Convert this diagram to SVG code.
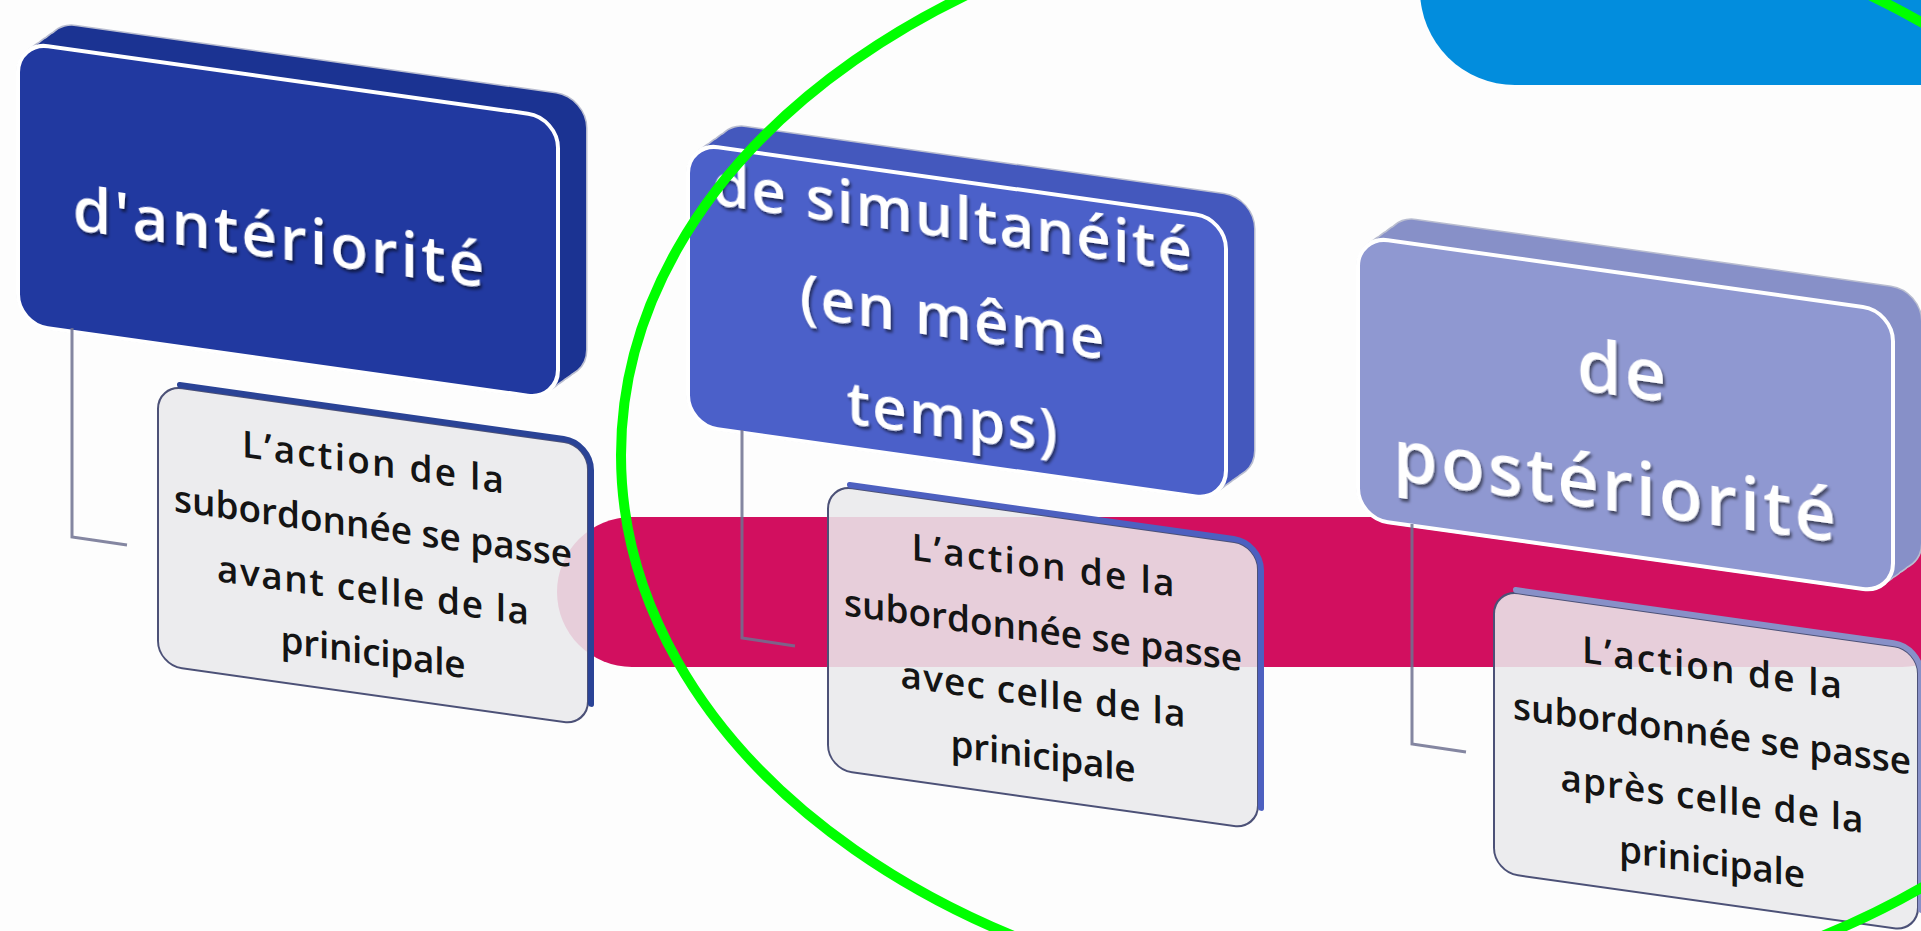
<svg xmlns="http://www.w3.org/2000/svg" width="1921" height="931" viewBox="0 0 1921 931">
<defs>
<style>
.big{font-family:"Open Sans","DejaVu Sans",sans-serif;font-weight:600;fill:#ffffff;text-anchor:middle;filter:url(#sh)}
.det{font-family:"Open Sans","DejaVu Sans",sans-serif;font-weight:600;font-size:37px;fill:#141414;text-anchor:middle}
.outl{fill:none;stroke:#b9bdd0;stroke-width:3}
.face{stroke:#ffffff;stroke-width:4}
.dfront{fill:#e9e9ec;fill-opacity:0.88;stroke:#4c5177;stroke-width:2}
.dtop{fill:none;stroke-width:6;stroke-linecap:round}
</style>
<filter id="sh" x="-10%" y="-20%" width="130%" height="150%">
<feDropShadow dx="2" dy="3" stdDeviation="1.5" flood-color="#000000" flood-opacity="0.55"/>
</filter>
</defs>
<rect x="0" y="0" width="1921" height="931" fill="#fdfdfd"/>
<rect id="blue-tab" x="1420" y="-120" width="620" height="205" rx="95" fill="#028ddd"/>
<rect id="band" x="557" y="517" width="1420" height="150" rx="75" fill="#d20f5f"/>

<g id="node-anteriorite" transform="translate(18,42) skewY(8)">
<g class="outl"><rect x="0" y="0" width="540" height="282" rx="30"/><rect x="7" y="-6" width="540" height="282" rx="30"/><rect x="14" y="-12" width="540" height="282" rx="30"/><rect x="21" y="-18" width="540" height="282" rx="30"/><rect x="28" y="-24" width="540" height="282" rx="30"/></g>
<g fill="#1b3392"><rect x="0" y="0" width="540" height="282" rx="30"/><rect x="7" y="-6" width="540" height="282" rx="30"/><rect x="14" y="-12" width="540" height="282" rx="30"/><rect x="21" y="-18" width="540" height="282" rx="30"/><rect x="28" y="-24" width="540" height="282" rx="30"/></g>
<rect class="face" x="0" y="0" width="540" height="282" rx="30" fill="#2139a0"/>
<text class="big" x="262" y="180" font-size="62" letter-spacing="3">d'antériorité</text>
</g>

<g id="node-simultaneite" transform="translate(688,143) skewY(8)">
<g class="outl"><rect x="0" y="0" width="538" height="282" rx="30"/><rect x="7" y="-6" width="538" height="282" rx="30"/><rect x="14" y="-12" width="538" height="282" rx="30"/><rect x="21" y="-18" width="538" height="282" rx="30"/><rect x="28" y="-24" width="538" height="282" rx="30"/></g>
<g fill="#4458bd"><rect x="0" y="0" width="538" height="282" rx="30"/><rect x="7" y="-6" width="538" height="282" rx="30"/><rect x="14" y="-12" width="538" height="282" rx="30"/><rect x="21" y="-18" width="538" height="282" rx="30"/><rect x="28" y="-24" width="538" height="282" rx="30"/></g>
<rect class="face" x="0" y="0" width="538" height="282" rx="30" fill="#4b60c9"/>
<text class="big" font-size="60" letter-spacing="2"><tspan x="265" y="58">de simultanéité</tspan><tspan x="265" y="158">(en même</tspan><tspan x="265" y="258">temps)</tspan></text>
</g>

<g id="node-posteriorite" transform="translate(1358,236) skewY(8)">
<g class="outl"><rect x="0" y="0" width="535" height="282" rx="30"/><rect x="7" y="-6" width="535" height="282" rx="30"/><rect x="14" y="-12" width="535" height="282" rx="30"/><rect x="21" y="-18" width="535" height="282" rx="30"/><rect x="28" y="-24" width="535" height="282" rx="30"/></g>
<g fill="#8790c8"><rect x="0" y="0" width="535" height="282" rx="30"/><rect x="7" y="-6" width="535" height="282" rx="30"/><rect x="14" y="-12" width="535" height="282" rx="30"/><rect x="21" y="-18" width="535" height="282" rx="30"/><rect x="28" y="-24" width="535" height="282" rx="30"/></g>
<rect class="face" x="0" y="0" width="535" height="282" rx="30" fill="#8f98d1"/>
<text class="big" font-size="72" letter-spacing="3"><tspan x="265" y="123">de</tspan><tspan x="258" y="239">postériorité</tspan></text>
</g>

<g id="connectors" fill="none" stroke="#6e7190" stroke-width="3" stroke-opacity="0.85">
<path d="M72,328 V537 L127,545"/>
<path d="M742,430 V638 L795,646"/>
<path d="M1412,524 V744 L1466,752"/>
</g>

<g id="detail-avant" transform="translate(158,385) skewY(8)">
<rect class="dfront" x="0" y="0" width="430" height="280" rx="24"/>
<path class="dtop" stroke="#2a4396" d="M22,-3 H406 A27 27 0 0 1 433,24 V258"/>
<text class="det"><tspan x="215" y="60" textLength="262">L’action de la</tspan><tspan x="215" y="124" textLength="398">subordonnée se passe</tspan><tspan x="215" y="188" textLength="312">avant celle de la</tspan><tspan x="215" y="250" textLength="185">prinicipale</tspan></text>
</g>

<g id="detail-avec" transform="translate(828,485) skewY(8)">
<rect class="dfront" x="0" y="0" width="430" height="284" rx="24"/>
<path class="dtop" stroke="#4d60c0" d="M22,-3 H406 A27 27 0 0 1 433,24 V262"/>
<text class="det"><tspan x="215" y="63" textLength="263">L’action de la</tspan><tspan x="215" y="128" textLength="398">subordonnée se passe</tspan><tspan x="215" y="192" textLength="285">avec celle de la</tspan><tspan x="215" y="254" textLength="185">prinicipale</tspan></text>
</g>

<g id="detail-apres" transform="translate(1494,590) skewY(8)">
<rect class="dfront" x="0" y="0" width="424" height="282" rx="24"/>
<path class="dtop" stroke="#8890c8" d="M22,-3 H400 A27 27 0 0 1 427,24 V260"/>
<text class="det"><tspan x="218" y="60" textLength="260">L’action de la</tspan><tspan x="218" y="126" textLength="398">subordonnée se passe</tspan><tspan x="218" y="191" textLength="303">après celle de la</tspan><tspan x="218" y="254" textLength="186">prinicipale</tspan></text>
</g>

<ellipse id="highlight" cx="1418" cy="455" rx="797" ry="558" fill="none" stroke="#00ff00" stroke-width="10"/>
</svg>
